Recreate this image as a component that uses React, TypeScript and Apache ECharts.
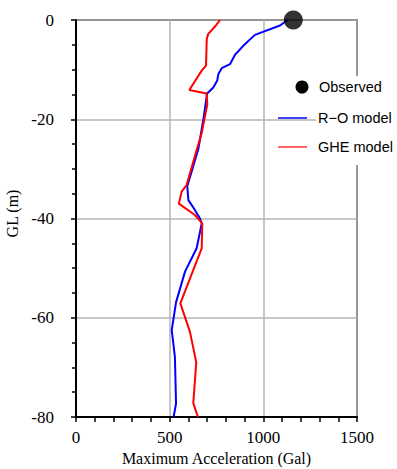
import React, { useEffect, useRef } from "react";
import * as echarts from "echarts";

const depthRO = [0, -1.1, -3, -5.2, -7, -8.9, -9.7, -10.9, -12.2, -13.6, -14.8, -20, -26, -33.5, -36.3, -37.6, -40, -41, -46, -50.7, -56.9, -62.5, -67.9, -77.3, -80];
const accRO = [1130, 1089, 955, 893, 849, 822, 778, 760, 754, 733, 700, 680, 653, 594, 600, 623, 662, 671, 644, 582, 534, 511, 528, 534, 521];

const depthGHE = [0, -1.1, -2.8, -3.8, -9.2, -10.2, -14.1, -14.8, -17, -22.8, -26.2, -33.3, -34.6, -37, -39.3, -41, -46, -52.6, -57.1, -62.8, -69, -77.2, -80];
const accGHE = [769, 747, 706, 698, 694, 671, 605, 697, 701, 671, 644, 590, 564, 549, 635, 674, 671, 603, 557, 608, 642, 626, 651];

const depthObs = [0];
const accObs = [1160];

const xTicks = [0, 500, 1000, 1500];
const yTicks = [0, -20, -40, -60, -80];

const serif = "Liberation Serif";
const sans = "Liberation Sans";

export default function App() {
  const ref = useRef<HTMLDivElement>(null);
  useEffect(() => {
    if (!ref.current) return;
    const chart = echarts.init(ref.current, null, { renderer: "svg" });
    const pairs = (xs: number[], ys: number[]) => xs.map((x, i) => [x, ys[i]]);
    const labelStyle = {
      fontFamily: serif,
      fontSize: 17,
      color: "#000",
      formatter: (v: number) => String(v),
    };
    chart.setOption({
      animation: false,
      backgroundColor: "#fff",
      textStyle: { fontFamily: serif, fontSize: 16, color: "#000" },
      grid: {
        left: 76,
        top: 20,
        width: 281,
        height: 397,
        containLabel: false,
        outerBoundsMode: "none",
        show: true,
        borderColor: "#000",
        borderWidth: 1.5,
        backgroundColor: "transparent",
      },
      xAxis: {
        type: "value",
        min: xTicks[0],
        max: xTicks[xTicks.length - 1],
        interval: 500,
        name: "Maximum Acceleration (Gal)",
        nameLocation: "middle",
        nameGap: 33,
        nameTextStyle: { fontFamily: serif, fontSize: 16, color: "#000" },
        axisLine: { show: true, onZero: false, lineStyle: { color: "#000", width: 2 } },
        axisTick: { show: true, length: 5, lineStyle: { color: "#000", width: 1.5 } },
        minorTick: { show: true, splitNumber: 5, length: 5, lineStyle: { color: "#000", width: 1.5 } },
        axisLabel: { ...labelStyle, margin: 12 },
        splitLine: { show: true, lineStyle: { color: "#b4b4b4", width: 1.5 } },
      },
      yAxis: {
        type: "value",
        min: yTicks[yTicks.length - 1],
        max: yTicks[0],
        interval: 20,
        name: "GL (m)",
        nameLocation: "middle",
        nameGap: 38,
        nameTextStyle: { fontFamily: serif, fontSize: 16, color: "#000", padding: [0, 0, 0, 10] },
        axisLine: { show: true, onZero: false, lineStyle: { color: "#000", width: 2 } },
        axisTick: { show: true, length: 5, lineStyle: { color: "#000", width: 1.5 } },
        minorTick: { show: true, splitNumber: 4, length: 4, lineStyle: { color: "#000", width: 1.5 } },
        axisLabel: { ...labelStyle, margin: 22 },
        splitLine: { show: true, lineStyle: { color: "#b4b4b4", width: 1.5 } },
      },
      series: [
        {
          name: "R\u2212O model",
          type: "line",
          data: pairs(accRO, depthRO),
          showSymbol: false,
          clip: false,
          lineStyle: { color: "#0000ff", width: 2 },
          z: 3,
        },
        {
          name: "GHE model",
          type: "line",
          data: pairs(accGHE, depthGHE),
          showSymbol: false,
          clip: false,
          lineStyle: { color: "#ff0000", width: 2 },
          z: 4,
        },
        {
          name: "Observed",
          type: "scatter",
          data: pairs(accObs, depthObs),
          symbol: "circle",
          symbolSize: 19,
          clip: false,
          itemStyle: { color: "#000" },
          z: 5,
        },
      ],
      graphic: [
        {
          type: "rect",
          shape: { x: 316, y: 76, width: 81, height: 89 },
          style: { fill: "#fff" },
          z: 10,
        },
        {
          type: "circle",
          shape: { cx: 302, cy: 87, r: 6.5 },
          style: { fill: "#000" },
          z: 11,
        },
        {
          type: "text",
          x: 319,
          y: 87,
          style: { text: "Observed", font: `14.5px '${sans}'`, fill: "#000", verticalAlign: "middle" },
          z: 11,
        },
        {
          type: "line",
          shape: { x1: 278, y1: 118, x2: 307, y2: 118 },
          style: { stroke: "#0000ff", lineWidth: 1.5 },
          z: 11,
        },
        {
          type: "text",
          x: 318,
          y: 118,
          style: { text: "R\u2212O model", font: `14.5px '${sans}'`, fill: "#000", verticalAlign: "middle" },
          z: 11,
        },
        {
          type: "line",
          shape: { x1: 278, y1: 147, x2: 307, y2: 147 },
          style: { stroke: "#ff3333", lineWidth: 1.5 },
          z: 11,
        },
        {
          type: "text",
          x: 318,
          y: 147,
          style: { text: "GHE model", font: `14.5px '${sans}'`, fill: "#000", verticalAlign: "middle" },
          z: 11,
        },
      ],
    });
    return () => chart.dispose();
  }, []);
  return (
    <div
      ref={ref}
      style={{ position: "fixed", left: 0, top: 0, width: 397, height: 469, background: "#fff" }}
    />
  );
}
